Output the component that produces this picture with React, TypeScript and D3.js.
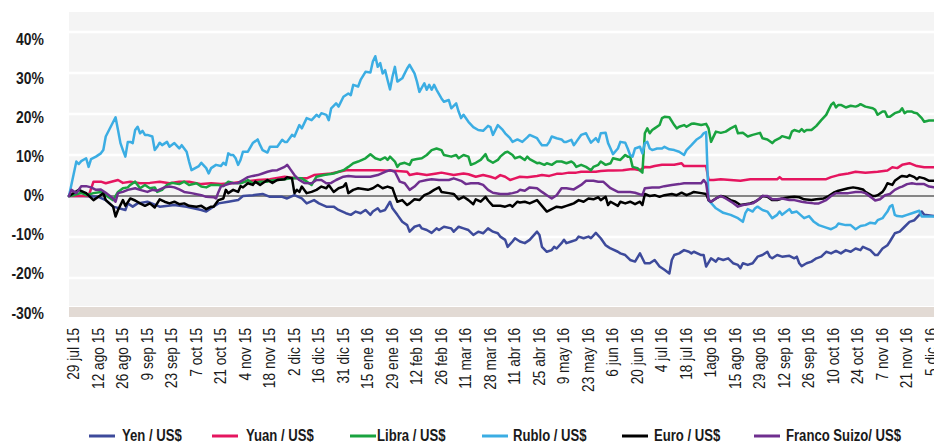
import React from "react";
import * as d3 from "d3";

// ---------- DATA ----------
// x = trading-day index since 29 jul 15 (one tick label every 10 trading days)
const dateLabels = [
  "29 jul 15", "12 ago 15", "26 ago 15", "9 sep 15", "23 sep 15", "7 oct 15", "21 oct 15",
  "4 nov 15", "18 nov 15", "2 dic 15", "16 dic 15", "31 dic 15", "15 ene 16", "29 ene 16",
  "12 feb 16", "26 feb 16", "11 mar 16", "28 mar 16", "11 abr 16", "25 abr 16", "9 may 16",
  "23 may 16", "6 jun 16", "20 jun 16", "4 jul 16", "18 jul 16", "1ago 16", "15 ago 16",
  "29 ago 16", "12 sep 16", "26 sep 16", "10 oct 16", "24 oct 16", "7 nov 16", "21 nov 16",
  "5 dic 16",
];
const yTicks = [40, 30, 20, 10, 0, -10, -20, -30];

const yenData: [number, number][] = [[0,0],[6,0],[12,-0.2],[15,-1.0],[18,-2.6],[23,-3.4],[24,-1.8],[26,-2.6],[28,-1.8],[32,-1.4],[37,-2.6],[43,-2.2],[48,-2.6],[54,-3.4],[56,-3.8],[58,-3.0],[61,-1.8],[65,-1.4],[69,-1.0],[71,0],[75,0.2],[79,0.5],[82,-0.2],[87,-0.2],[89,-0.6],[92,0.2],[95,-0.6],[97,-1.8],[100,-1.0],[102,-1.8],[105,-2.6],[108,-2.6],[110,-3.4],[113,-4.2],[115,-4.6],[117,-3.8],[119,-4.2],[121,-3.4],[123,-4.6],[124,-3.8],[126,-3.0],[127,-3.8],[129,-3.4],[131,-1.4],[132,-3.0],[134,-4.6],[136,-6.3],[138,-7.1],[139,-8.7],[141,-7.5],[143,-7.1],[144,-7.9],[146,-8.3],[148,-9.0],[150,-7.9],[151,-8.3],[153,-7.5],[156,-7.9],[157,-8.7],[159,-7.5],[161,-7.9],[163,-8.3],[165,-9.5],[167,-8.7],[169,-9.1],[171,-7.9],[173,-8.7],[175,-9.1],[176,-9.9],[178,-10.7],[179,-12.4],[181,-11.1],[182,-10.3],[184,-11.1],[186,-11.5],[188,-10.7],[191,-8.7],[192,-9.5],[193,-12.4],[195,-13.6],[197,-13.2],[198,-12.4],[199,-12.8],[201,-11.5],[202,-10.7],[203,-11.5],[205,-11.1],[207,-10.7],[208,-9.9],[210,-10.3],[212,-9.9],[213,-10.3],[215,-9.0],[217,-10.3],[219,-12.0],[220,-12.4],[221,-12.8],[224,-13.6],[225,-14.0],[227,-14.4],[229,-15.6],[231,-16.0],[233,-14.0],[235,-16.4],[237,-16.4],[239,-15.6],[241,-17.2],[243,-18.0],[245,-18.9],[246,-15.6],[247,-14.4],[249,-14.0],[251,-13.2],[253,-13.6],[254,-14.0],[255,-13.6],[258,-14.4],[259,-14.4],[260,-17.2],[262,-15.2],[264,-16.0],[265,-15.2],[267,-15.6],[269,-15.2],[271,-16.4],[273,-16.8],[274,-17.6],[275,-16.4],[277,-16.8],[279,-16.4],[281,-14.8],[283,-14.4],[285,-13.6],[286,-14.8],[287,-15.2],[289,-14.4],[291,-14.8],[294,-14.6],[296,-15.2],[297,-14.8],[298,-16.4],[299,-17.1],[301,-16.4],[303,-16.0],[305,-15.2],[307,-14.8],[309,-13.6],[311,-14.0],[313,-13.4],[315,-14.0],[317,-13.2],[319,-13.6],[321,-12.8],[323,-13.2],[324,-12.4],[327,-13.2],[329,-14.4],[330,-14.4],[332,-12.8],[334,-12.0],[335,-11.1],[337,-9.1],[339,-8.7],[341,-7.5],[343,-6.3],[345,-5.9],[347,-4.6],[348,-3.8],[349,-4.6],[353,-4.9]];

const yuanData: [number, number][] = [[0,0],[8,0],[10,3.5],[13,3.5],[15,3.1],[20,3.9],[22,3.2],[25,3.5],[29,3.1],[33,3.2],[37,3.5],[41,3.1],[45,3.5],[49,3.5],[54,2.9],[58,3.1],[62,2.9],[66,3.1],[71,3.5],[77,3.9],[82,4.1],[88,4.7],[92,4.4],[97,4.3],[100,5.1],[107,5.5],[113,6.3],[121,6.3],[127,6.3],[134,6.1],[138,5.9],[139,5.1],[142,5.5],[146,5.1],[150,5.5],[152,5.7],[157,5.1],[161,5.5],[163,5.3],[166,4.7],[169,5.1],[172,4.7],[174,4.3],[176,5.1],[178,4.7],[180,3.9],[182,4.3],[184,4.7],[187,4.6],[191,4.9],[193,5.1],[196,4.9],[199,5.4],[201,5.4],[204,5.7],[207,5.7],[209,5.9],[212,5.9],[215,5.9],[217,6.1],[220,6.2],[222,6.2],[226,6.3],[229,6.5],[231,6.5],[233,6.3],[235,7.1],[237,7.0],[239,7.3],[242,7.6],[245,7.6],[247,7.6],[250,8.0],[251,7.3],[254,7.3],[258,7.3],[260,7.3],[261,3.9],[263,3.9],[266,4.1],[270,3.9],[274,3.7],[278,4.1],[282,4.1],[289,4.1],[290,4.6],[291,4.1],[298,4.1],[303,4.1],[309,4.1],[311,4.6],[314,5.1],[318,5.5],[321,5.9],[325,5.7],[330,5.9],[334,6.2],[336,7.0],[338,6.8],[340,7.6],[343,8.0],[346,7.3],[349,7.0],[353,7.0]];

const libraData: [number, number][] = [[0,0],[2,0.2],[5,0.8],[7,0.2],[10,0.7],[13,1.0],[18,-1.0],[20,1.0],[22,1.9],[24,2.1],[25,2.7],[27,3.5],[28,2.7],[29,1.9],[31,2.7],[33,1.9],[35,2.1],[36,1.0],[38,1.5],[40,2.7],[42,3.2],[45,2.9],[47,3.5],[49,2.7],[52,3.1],[54,2.3],[56,2.1],[58,2.7],[61,2.7],[63,2.4],[65,3.5],[67,3.2],[70,3.1],[72,3.5],[73,3.9],[75,3.1],[78,3.5],[81,3.5],[82,3.7],[85,3.9],[88,4.1],[91,4.4],[95,4.3],[97,3.5],[99,2.7],[101,4.7],[104,5.1],[108,5.5],[112,6.3],[114,7.1],[116,8.0],[118,8.4],[121,9.2],[123,10.2],[125,9.2],[127,8.8],[129,9.4],[130,8.8],[131,9.6],[133,8.4],[134,7.1],[135,7.8],[137,8.1],[139,7.6],[140,8.8],[142,9.0],[144,9.2],[146,10.0],[148,11.2],[150,11.6],[152,11.2],[153,10.0],[156,9.6],[158,10.0],[159,9.2],[161,10.0],[163,9.6],[164,7.6],[166,8.1],[168,8.8],[170,10.2],[171,8.8],[173,8.1],[175,8.8],[176,9.6],[178,10.6],[179,10.8],[181,10.0],[182,9.2],[184,9.6],[186,8.8],[187,9.6],[188,9.0],[191,8.0],[192,8.1],[194,7.6],[195,8.0],[197,7.6],[199,8.4],[201,8.4],[203,8.0],[205,8.4],[206,8.0],[207,7.1],[209,7.6],[211,7.1],[213,6.3],[214,7.1],[216,7.6],[217,8.4],[219,7.6],[221,8.0],[222,9.2],[225,8.8],[227,10.0],[228,9.6],[229,9.6],[230,7.1],[232,6.8],[234,5.7],[235,15.3],[236,16.5],[237,15.3],[238,16.1],[239,16.5],[241,17.3],[242,19.0],[243,19.3],[245,19.2],[247,17.3],[248,16.5],[249,16.9],[251,17.3],[252,16.9],[254,17.6],[255,17.7],[258,17.3],[260,17.6],[261,16.5],[262,13.2],[264,15.7],[266,15.4],[268,15.7],[270,16.5],[272,17.1],[273,15.3],[275,15.4],[277,14.5],[279,14.9],[282,15.4],[283,14.1],[285,13.8],[287,12.9],[288,13.5],[290,14.1],[291,14.6],[294,14.1],[295,15.7],[296,16.1],[298,15.7],[299,16.3],[300,15.7],[301,16.1],[303,16.1],[305,17.1],[307,18.5],[309,19.8],[310,21.0],[311,22.2],[312,22.8],[313,21.6],[314,22.2],[315,22.2],[317,21.6],[319,22.0],[321,21.8],[322,22.0],[323,22.4],[325,21.8],[328,21.4],[329,21.0],[330,19.8],[332,20.6],[333,20.6],[334,19.3],[335,19.3],[337,20.2],[339,20.6],[340,21.4],[341,20.2],[342,20.6],[344,20.6],[345,20.3],[346,20.2],[348,19.0],[349,18.1],[351,18.4],[353,18.4]];

const rubloData: [number, number][] = [[0,0],[3,8.4],[4,7.8],[5,8.5],[7,9.2],[8,7.1],[9,9.0],[11,9.6],[13,10.4],[14,11.2],[15,14.5],[19,19.2],[20,16.1],[21,12.9],[22,11.2],[23,9.6],[24,13.2],[25,13.2],[26,12.9],[27,16.1],[28,16.9],[29,15.3],[30,15.9],[31,14.9],[32,14.9],[34,14.5],[35,11.2],[36,12.0],[37,13.0],[38,12.4],[40,13.2],[41,12.0],[43,12.9],[45,11.6],[46,12.4],[48,10.8],[49,8.4],[50,6.3],[53,7.3],[54,8.1],[56,6.8],[57,5.5],[58,6.8],[60,7.6],[62,7.3],[63,8.1],[64,7.6],[65,10.4],[66,10.0],[67,10.0],[68,9.2],[69,7.6],[70,8.8],[71,10.8],[73,10.8],[75,12.9],[77,13.8],[78,12.4],[79,11.2],[81,10.6],[82,12.0],[85,12.0],[87,13.7],[88,13.2],[89,13.2],[91,14.9],[92,14.5],[94,17.3],[95,16.5],[97,19.0],[99,18.5],[101,19.8],[102,19.3],[103,20.2],[105,19.8],[106,18.5],[107,21.4],[109,22.6],[110,21.8],[112,24.2],[114,25.0],[115,24.6],[116,27.1],[118,26.7],[119,28.3],[121,30.3],[123,30.1],[124,32.8],[125,34.1],[126,31.5],[127,32.4],[128,29.9],[129,30.7],[130,28.3],[131,26.0],[132,29.1],[133,31.5],[134,27.9],[136,28.7],[137,29.9],[138,31.1],[139,32.0],[141,29.9],[142,27.9],[143,25.4],[145,27.5],[146,25.9],[147,27.1],[148,25.9],[149,27.1],[150,25.9],[152,23.8],[153,23.0],[155,23.4],[156,21.4],[158,22.6],[159,20.6],[160,19.0],[161,19.8],[163,18.1],[165,16.8],[167,16.1],[169,15.9],[171,17.1],[172,16.8],[173,14.9],[175,17.3],[177,16.1],[178,15.3],[180,14.1],[181,13.2],[183,13.8],[185,13.2],[187,14.3],[188,14.9],[191,14.1],[192,13.2],[193,12.4],[195,12.4],[196,13.2],[197,14.5],[199,14.1],[201,13.8],[202,13.2],[203,13.2],[205,13.7],[206,12.4],[207,13.2],[209,14.9],[211,15.3],[212,14.1],[213,13.0],[215,14.1],[216,13.2],[217,15.3],[219,15.4],[220,12.9],[221,11.6],[222,10.2],[224,11.6],[225,13.2],[227,13.0],[228,11.6],[229,10.0],[230,9.6],[231,11.6],[233,12.0],[234,10.4],[235,12.9],[236,13.2],[237,11.6],[238,11.2],[240,11.6],[242,11.6],[243,12.0],[245,11.4],[247,11.2],[249,10.8],[251,10.0],[252,11.2],[254,12.4],[256,13.7],[258,14.5],[259,15.3],[260,15.6],[261,-1.0],[264,-3.0],[267,-4.1],[270,-4.6],[273,-5.4],[275,-6.3],[276,-4.2],[277,-3.2],[279,-3.8],[280,-3.0],[281,-2.6],[283,-3.4],[285,-3.8],[287,-5.4],[289,-4.6],[290,-3.8],[291,-4.6],[294,-3.2],[295,-4.1],[297,-3.8],[300,-5.4],[302,-4.9],[304,-6.3],[306,-7.1],[309,-7.7],[311,-8.1],[313,-7.5],[314,-6.7],[317,-7.1],[319,-7.1],[321,-8.1],[323,-7.3],[325,-7.1],[327,-6.5],[329,-6.7],[330,-5.9],[332,-5.4],[333,-4.6],[334,-3.8],[335,-2.6],[336,-2.2],[337,-4.6],[338,-4.9],[340,-5.0],[342,-4.6],[344,-4.2],[347,-3.6],[348,-5.0],[353,-5.0]];

const euroData: [number, number][] = [[0,0],[4,1.5],[7,0.7],[10,-1.0],[12,-0.2],[14,0.7],[15,-1.0],[18,-2.6],[19,-5.0],[20,-3.4],[22,-1.0],[23,-2.4],[25,-0.6],[27,-1.1],[29,-1.8],[31,-2.4],[33,-1.8],[35,-2.8],[37,-0.8],[39,-1.4],[41,-1.8],[43,-1.4],[45,-2.0],[47,-1.8],[49,-2.4],[52,-2.6],[54,-2.4],[56,-3.2],[58,-2.6],[59,-2.6],[61,-1.0],[63,-0.6],[64,1.5],[65,0.7],[67,1.5],[69,1.0],[70,2.4],[71,2.1],[73,3.1],[75,2.7],[76,3.5],[78,2.7],[79,3.1],[81,3.9],[83,3.2],[85,3.9],[88,4.1],[89,4.6],[91,4.3],[92,0.7],[93,1.5],[94,1.0],[95,2.3],[97,0.7],[99,1.0],[101,1.5],[103,2.3],[105,1.9],[106,2.7],[108,1.0],[110,1.9],[112,2.3],[113,3.1],[114,0.7],[116,1.5],[118,1.9],[122,1.5],[124,1.9],[126,2.7],[128,1.9],[130,2.3],[132,1.9],[133,0.2],[134,-1.4],[136,-1.0],[138,-2.2],[139,-1.8],[141,-0.8],[143,-1.0],[145,0.2],[147,0.7],[149,1.5],[151,2.1],[152,1.0],[155,0.7],[157,0.5],[159,-0.8],[161,-0.2],[163,-1.0],[165,-2.0],[166,-0.8],[168,-1.4],[170,-0.2],[171,-1.1],[173,-2.4],[176,-2.4],[178,-2.6],[180,-2.2],[181,-2.6],[183,-1.4],[184,-1.6],[186,-1.4],[188,-1.8],[191,-1.0],[193,-2.4],[195,-3.8],[197,-3.2],[199,-2.6],[201,-2.8],[203,-2.4],[205,-2.0],[206,-1.8],[208,-1.0],[210,-1.4],[212,-0.6],[214,-0.8],[216,-0.3],[217,-1.0],[219,-0.2],[220,-2.2],[221,-1.4],[224,-2.4],[225,-1.4],[227,-1.8],[229,-1.4],[231,-2.0],[233,-1.4],[234,-2.2],[235,0.5],[237,0],[239,0.2],[241,-0.2],[243,0.2],[246,0.5],[248,0.2],[250,0.8],[252,0.2],[254,0.7],[255,1.0],[258,0.7],[260,0.5],[261,-1.0],[262,-1.4],[264,-0.6],[266,0],[268,-0.3],[270,-1.0],[272,-1.4],[274,-2.2],[276,-2.0],[278,-1.8],[280,-1.4],[282,-0.6],[283,0],[285,-0.2],[287,-1.0],[289,-1.0],[291,-0.6],[294,-0.3],[296,-0.2],[298,-0.3],[300,-0.8],[303,-1.0],[305,-0.8],[308,-0.6],[310,0],[312,0.8],[314,1.3],[316,1.6],[318,1.9],[320,2.1],[322,1.9],[324,1.6],[325,1.0],[328,0],[329,0],[330,0.2],[332,1.0],[333,1.9],[334,3.1],[336,2.7],[337,3.7],[339,4.6],[340,4.9],[342,4.7],[343,5.1],[345,4.6],[346,4.1],[347,4.6],[349,4.3],[351,3.7],[353,3.7]];

const francoData: [number, number][] = [[0,0],[1,1.5],[3,0.7],[5,2.4],[7,2.4],[9,2.1],[11,1.5],[13,1.6],[15,0.8],[18,-0.6],[19,-1.4],[20,0.7],[22,1.0],[24,1.5],[27,1.9],[29,1.5],[32,1.0],[34,1.5],[36,1.3],[39,2.1],[41,2.3],[43,2.1],[45,1.6],[47,1.0],[50,0.7],[54,0.2],[56,-0.2],[59,-0.3],[60,-0.6],[61,1.0],[62,2.3],[64,2.7],[66,3.1],[69,3.2],[71,3.9],[73,4.6],[75,4.9],[77,5.1],[79,5.5],[81,5.9],[83,6.2],[85,6.3],[88,7.1],[89,7.6],[90,6.8],[92,5.1],[94,3.9],[96,3.2],[99,3.1],[101,3.9],[103,3.9],[105,3.1],[107,3.2],[109,3.9],[112,4.7],[114,4.9],[117,4.7],[121,4.7],[123,4.7],[126,5.1],[129,5.9],[131,6.3],[133,5.9],[135,3.5],[137,3.1],[139,1.5],[141,2.3],[143,3.5],[146,3.9],[148,4.1],[151,3.9],[155,3.9],[157,4.3],[160,3.7],[162,2.9],[164,3.1],[167,3.1],[169,2.7],[171,1.5],[173,0.8],[176,0.5],[179,0.5],[181,0.7],[183,1.0],[184,1.5],[186,1.3],[188,2.1],[191,1.9],[193,1.0],[195,0.2],[197,-0.6],[199,0.2],[201,1.9],[203,1.9],[206,1.6],[209,2.7],[211,3.7],[214,3.7],[216,3.5],[218,3.5],[221,1.9],[224,1.0],[226,1.0],[229,1.0],[231,0.8],[234,0.2],[235,1.9],[238,2.1],[241,2.1],[243,2.4],[246,2.7],[249,2.9],[251,3.1],[254,3.1],[258,3.1],[259,3.9],[260,3.1],[261,-1.0],[262,-1.4],[264,-0.6],[266,0],[268,-0.6],[271,-1.7],[273,-2.6],[275,-2.2],[277,-2.0],[279,-1.8],[281,-1.0],[283,0],[285,0],[287,-0.8],[289,-0.8],[291,-0.6],[294,-1.0],[296,-1.0],[299,-1.4],[301,-1.6],[304,-1.8],[306,-1.8],[309,-1.0],[311,0],[313,0.7],[315,0.7],[318,0.7],[321,1.0],[323,1.0],[325,0.7],[328,-0.6],[329,-1.1],[331,-0.8],[333,0.2],[335,0.5],[337,1.5],[339,2.1],[340,2.3],[342,2.9],[344,3.1],[346,2.9],[349,2.9],[351,2.3],[353,2.1]];

const seriesNames = ["Yen / US$", "Yuan / US$", "Libra / US$", "Rublo / US$", "Euro / US$", "Franco Suizo/ US$"];
const seriesColors = ["#3d4a9b", "#e5155f", "#19a33f", "#3badE3", "#000000", "#6f2f8f"];
const seriesData = [yenData, yuanData, libraData, rubloData, euroData, francoData];

// ---------- LAYOUT ----------
const W = 934;
const H = 442;
const PLOT_LEFT = 69;
const PLOT_RIGHT = 934;
const PLOT_TOP = 12;
const BAND_TOP = 307;
const BAND_H = 10;
const LEGEND_Y = 436;
const NARROW = 0.82;
const legendSwatchX = [89, 212, 350, 482, 622, 754];
const legendGap = [7, 8, 1, 5, 6, 6];
const FONT = "'Liberation Sans', Arial, Helvetica, sans-serif";
const TEXT = "#1a1a1a";

export default function App() {
  const x = d3.scaleLinear().domain([0, 353]).range([PLOT_LEFT, PLOT_RIGHT]);
  const y = d3.scaleLinear().domain([-30, 45]).range([319, 11.5]);
  const yLabel = d3.scaleLinear().domain([-30, 40]).range([312.5, 39]);
  const line = d3
    .line<[number, number]>()
    .x((d) => x(d[0]))
    .y((d) => y(d[1]));

  return (
    <div style={{ position: "fixed", left: 0, top: 0, width: W, height: H, background: "#fff" }}>
      <svg width={W} height={H} style={{ display: "block", fontFamily: FONT }}>
        <rect x={0} y={0} width={W} height={H} fill="#ffffff" />
        {/* plot background */}
        <rect x={PLOT_LEFT} y={PLOT_TOP} width={PLOT_RIGHT - PLOT_LEFT} height={BAND_TOP - 1 - PLOT_TOP} fill="#f4f4f4" />
        <rect x={PLOT_LEFT} y={BAND_TOP} width={PLOT_RIGHT - PLOT_LEFT} height={BAND_H} fill="#e2dad4" />
        {/* gridlines */}
        {yTicks
          .filter((t) => t !== 0 && t !== -30)
          .map((t) => (
            <line key={t} x1={PLOT_LEFT} x2={PLOT_RIGHT} y1={y(t)} y2={y(t)} stroke="#ffffff" strokeWidth={2.5} />
          ))}
        <line x1={PLOT_LEFT} x2={PLOT_RIGHT} y1={y(0)} y2={y(0)} stroke="#858585" strokeWidth={2} />
        {/* y labels */}
        {yTicks.map((t) => (
          <text
            key={t}
            transform={`translate(44,${yLabel(t)}) scale(${NARROW},1)`}
            textAnchor="end"
            dominantBaseline="central"
            fontSize={17}
            fontWeight="bold"
            fill={TEXT}
          >
            {`${t}%`}
          </text>
        ))}
        {/* series */}
        {seriesData.map((d, i) => (
          <path
            key={seriesNames[i]}
            d={line(d) || ""}
            fill="none"
            stroke={seriesColors[i]}
            strokeWidth={2.5}
            strokeLinejoin="round"
            strokeLinecap="round"
          />
        ))}
        {/* x labels */}
        {dateLabels.map((lab, k) => (
          <text
            key={lab}
            transform={`translate(${x(k * 10) + 4},328) rotate(-90) scale(${NARROW},1)`}
            textAnchor="end"
            dominantBaseline="central"
            fontSize={16.7}
            fill={TEXT}
          >
            {lab}
          </text>
        ))}
        {/* legend */}
        {seriesNames.map((name, i) => (
          <g key={name}>
            <line
              x1={legendSwatchX[i]}
              x2={legendSwatchX[i] + 26}
              y1={LEGEND_Y}
              y2={LEGEND_Y}
              stroke={seriesColors[i]}
              strokeWidth={3}
            />
            <text
              transform={`translate(${legendSwatchX[i] + 26 + legendGap[i]},${LEGEND_Y}) scale(${NARROW},1)`}
              dominantBaseline="central"
              fontSize={16}
              fontWeight="bold"
              fill={TEXT}
            >
              {name}
            </text>
          </g>
        ))}
      </svg>
    </div>
  );
}
